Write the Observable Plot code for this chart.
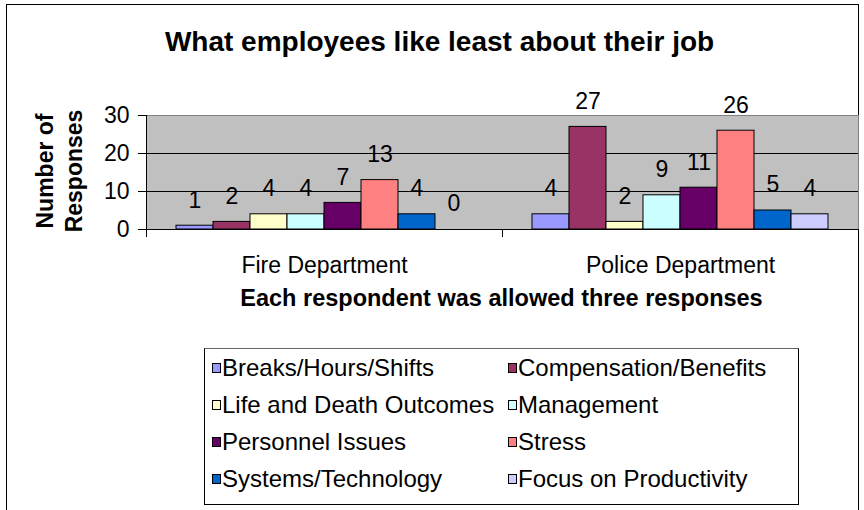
<!DOCTYPE html>
<html><head><meta charset="utf-8">
<script src="https://cdn.jsdelivr.net/npm/d3@7"></script>
<script src="https://cdn.jsdelivr.net/npm/@observablehq/plot@0.6"></script>
<style>
body{margin:0;background:#fff;}
#wrap{position:relative;width:864px;height:510px;overflow:hidden;font-family:"Liberation Sans",Arial,sans-serif;color:#000;background:#fff;}
#border{position:absolute;left:6px;top:4px;width:853px;height:540px;border:1px solid #000;box-sizing:border-box;}
#title{position:absolute;left:0;width:879px;top:28px;line-height:28px;font-size:28px;font-weight:bold;text-align:center;white-space:nowrap;}
#ylabel{position:absolute;left:-40.5px;top:142px;width:200px;height:58px;line-height:29px;font-size:23px;font-weight:bold;text-align:center;transform:rotate(-90deg);transform-origin:50% 50%;}
#xlabel{position:absolute;left:145px;width:713px;top:286.5px;line-height:23px;font-size:23.5px;font-weight:bold;text-align:center;white-space:nowrap;}
#chart{position:absolute;left:0;top:0;}
#legend{position:absolute;left:204px;top:348px;width:595px;height:157px;box-sizing:border-box;border:1px solid #000;border-top-color:#666;background:#fff;}
.item{position:absolute;font-size:24px;line-height:23px;white-space:nowrap;}
.sw{position:absolute;left:-1px;top:7px;width:9px;height:10px;border:1px solid #000;box-sizing:border-box;}
.lt{position:absolute;left:9px;top:0;}
</style>
</head>
<body>
<div id="wrap">
  <div id="border"></div>
  <div id="chart"></div>
  <div id="title">What employees like least about their job</div>
  <div id="ylabel">Number of<br>Responses</div>
  <div id="xlabel">Each respondent was allowed three responses</div>
  <div id="legend"></div>
</div>
<script>
const departments = ["Fire Department", "Police Department"];
const categories = [
  "Breaks/Hours/Shifts", "Compensation/Benefits",
  "Life and Death Outcomes", "Management",
  "Personnel Issues", "Stress",
  "Systems/Technology", "Focus on Productivity"
];
const fireValues = [1, 2, 4, 4, 7, 13, 4, 0];
const policeValues = [4, 27, 2, 9, 11, 26, 5, 4];
const yTicks = [0, 10, 20, 30];
const colors = ["#9999FF", "#993366", "#FFFFCC", "#CCFFFF", "#660066", "#FF8080", "#0066CC", "#CCCCFF"];

const seriesByDept = [fireValues, policeValues];
const data = departments.flatMap((d, i) =>
  categories.map((c, j) => ({department: d, category: c, value: seriesByDept[i][j]}))
);

const plotHeight = 114;
const chart = Plot.plot({
  width: 864,
  height: 310,
  marginTop: 115,
  marginBottom: 81,
  marginLeft: 145,
  marginRight: 6,
  style: {fontFamily: '"Liberation Sans", Arial, sans-serif', fontSize: "23px", color: "#000", background: "transparent", overflow: "visible"},
  fx: {domain: departments, padding: 0, label: null, axis: "bottom", tickSize: 0, tickPadding: 27},
  x: {domain: categories, padding: 0, axis: null, insetLeft: 27, insetRight: 27},
  y: {domain: [0, 30], ticks: yTicks, tickSize: 8, tickPadding: 9, label: null},
  color: {domain: categories, range: colors},
  marks: [
    Plot.frame({fill: "#c0c0c0", stroke: null, facet: "super"}),
    Plot.ruleY(yTicks.filter(t => t < 30), {stroke: "#000"}),
    Plot.frame({anchor: "top", stroke: "#808080", facet: "super"}),
    Plot.frame({anchor: "right", stroke: "#808080", facet: "super"}),
    Plot.frame({anchor: "left", stroke: "#000", facet: "super"}),
    Plot.frame({anchor: "left", stroke: "#000", insetTop: plotHeight, insetBottom: -7}),
    Plot.frame({anchor: "right", stroke: "#000", insetTop: plotHeight, insetBottom: -7}),
    Plot.barY(data, {fx: "department", x: "category", y: "value", fill: "category", stroke: "#000", strokeWidth: 1}),
    Plot.text(data, {fx: "department", x: "category", y: "value", text: "value", dy: -25.5, lineAnchor: "middle", fontSize: 23, fill: "#000"})
  ]
});
document.getElementById("chart").appendChild(chart);

const legend = document.getElementById("legend");
categories.forEach((c, i) => {
  const col = i % 2, row = Math.floor(i / 2);
  const item = document.createElement("div");
  item.className = "item";
  item.style.left = (8 + col * 296) + "px";
  item.style.top = (7 + row * 37) + "px";
  const sw = document.createElement("div");
  sw.className = "sw";
  sw.style.background = colors[i];
  const t = document.createElement("div");
  t.className = "lt";
  t.textContent = c;
  item.appendChild(sw);
  item.appendChild(t);
  legend.appendChild(item);
});
</script>
</body></html>
